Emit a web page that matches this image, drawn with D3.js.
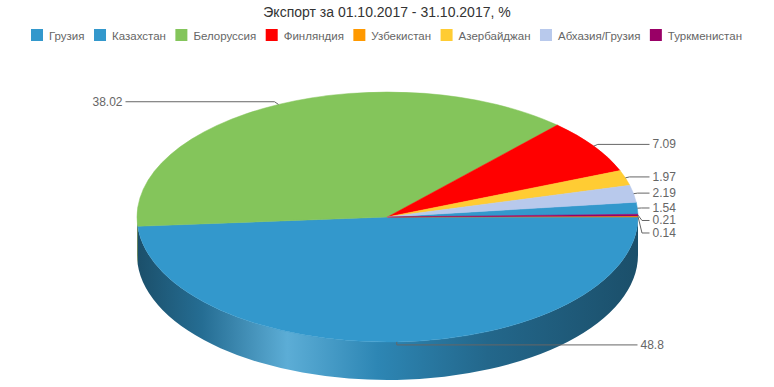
<!DOCTYPE html>
<html>
<head>
<meta charset="utf-8">
<script src="https://cdn.jsdelivr.net/npm/d3@7"></script>
<style>
  body { margin: 0; background: #fff; }
  text { font-family: "Liberation Sans", Arial, sans-serif; }
</style>
</head>
<body>
<script>
// chart data
var title = "Экспорт за 01.10.2017 - 31.10.2017, %";
var countries = ["Грузия", "Казахстан", "Белоруссия", "Финляндия", "Узбекистан", "Азербайджан", "Абхазия/Грузия", "Туркменистан"];
var shares = [48.8, 1.54, 38.02, 7.09, 0.14, 1.97, 2.19, 0.21];
var colors = ["#3398cc", "#3398cc", "#84c55b", "#ff0000", "#ff9900", "#ffcc33", "#b8c9ec", "#990066"];
// order of slices round the pie, clockwise from the right edge
var sliceOrder = ["Грузия", "Белоруссия", "Финляндия", "Азербайджан", "Абхазия/Грузия", "Казахстан", "Туркменистан", "Узбекистан"];

var width = 774,
    height = 387;

var cx = 387.5, cy = 217,
    rx = 250.5, ry = 125,
    depth = 38;

var data = countries.map(function(c, i) {
    return { name: c, value: shares[i], color: colors[i] };
});

var svg = d3.select("body")
    .append("svg")
    .attr("width", width)
    .attr("height", height);

svg.append("text")
    .attr("x", width / 2)
    .attr("y", 17)
    .attr("text-anchor", "middle")
    .style("font-size", "14px")
    .attr("fill", "#333")
    .text(title);

// legend: items spread between the left and right edges seen in the picture
var legLeft = 31, legRight = 742;
var legend = svg.append("g").attr("class", "legend");
var items = legend.selectAll("g")
    .data(data)
    .enter().append("g");
items.append("rect")
    .attr("y", 29)
    .attr("width", 12)
    .attr("height", 12)
    .attr("fill", function(d) { return d.color; });
items.append("text")
    .attr("x", 18)
    .attr("y", 39.5)
    .style("font-size", "11.5px")
    .attr("fill", "#666")
    .text(function(d) { return d.name; });

var widths = [];
items.each(function() {
    widths.push(18 + d3.select(this).select("text").node().getComputedTextLength());
});
var gap = (legRight - legLeft - d3.sum(widths)) / (widths.length - 1);
var xpos = legLeft, offs = [];
widths.forEach(function(w) { offs.push(xpos); xpos += w + gap; });
items.attr("transform", function(d, i) { return "translate(" + offs[i] + ",0)"; });

// pie angles: 0 = top, clockwise, starting at the right edge
var pie = d3.pie()
    .value(function(d) { return d.value; })
    .sort(function(a, b) { return sliceOrder.indexOf(a.name) - sliceOrder.indexOf(b.name); })
    .startAngle(Math.PI / 2)
    .endAngle(Math.PI / 2 + 2 * Math.PI);

var arcs = pie(data);

function pt(a, dy, ex) {
    ex = ex || 0;
    return [cx + (rx + ex) * Math.sin(a), cy - (ry + ex) * Math.cos(a) + (dy || 0)];
}

var defs = svg.append("defs");
// side gradient, light falling from the front-left
var stops = [[0, -0.48], [0.13, -0.28], [0.3, 0.2], [0.48, -0.12], [0.7, -0.32], [1, -0.48]];
arcs.forEach(function(d, i) {
    var g = defs.append("linearGradient")
        .attr("id", "side" + i)
        .attr("gradientUnits", "userSpaceOnUse")
        .attr("x1", cx - rx).attr("x2", cx + rx)
        .attr("y1", 0).attr("y2", 0);
    stops.forEach(function(s) {
        var c = s[1] < 0 ? d3.interpolateRgb(d.data.color, "#000")(-s[1])
                         : d3.interpolateRgb(d.data.color, "#fff")(s[1]);
        g.append("stop").attr("offset", s[0]).attr("stop-color", c);
    });
});

// side walls, front half only
var sides = svg.append("g").attr("class", "sides");
arcs.forEach(function(d, i) {
    var a0 = Math.max(d.startAngle, Math.PI / 2),
        a1 = Math.min(d.endAngle, 3 * Math.PI / 2);
    if (a1 <= a0) return;
    var p0 = pt(a0), p1 = pt(a1), q0 = pt(a0, depth), q1 = pt(a1, depth);
    var large = (a1 - a0) > Math.PI ? 1 : 0;
    var path = "M" + p0 + "A" + rx + "," + ry + " 0 " + large + " 1 " + p1 +
        "L" + q1 + "A" + rx + "," + ry + " 0 " + large + " 0 " + q0 + "Z";
    sides.append("path")
        .attr("d", path)
        .attr("fill", "url(#side" + i + ")");
});

// top faces
svg.append("g").attr("class", "tops")
    .selectAll("path")
    .data(arcs)
    .enter().append("path")
    .attr("d", function(d) {
        var p0 = pt(d.startAngle), p1 = pt(d.endAngle);
        var large = (d.endAngle - d.startAngle) > Math.PI ? 1 : 0;
        return "M" + cx + "," + cy + "L" + p0 + "A" + rx + "," + ry + " 0 " + large + " 1 " + p1 + "Z";
    })
    .attr("fill", function(d) { return d.data.color; })
    .attr("stroke", function(d) { return d.data.color; })
    .attr("stroke-width", 0.5);

// labels
var labels = arcs.map(function(d) {
    var m = (d.startAngle + d.endAngle) / 2;
    var dir = Math.sin(m) >= 0 ? 1 : -1;
    return { d: d, m: m, dir: dir, edge: pt(m), y: pt(m, 0, 3)[1] };
});
[1, -1].forEach(function(dir) {
    var side = labels.filter(function(l) { return l.dir === dir; })
        .sort(function(a, b) { return a.y - b.y; });
    for (var k = 1; k < side.length; k++) {
        if (side[k].y - side[k - 1].y < 12.5) side[k].y = side[k - 1].y + 12.5;
    }
});
labels.forEach(function(l) {
    var bottom = Math.abs(Math.cos(l.m)) > 0.9 && Math.cos(l.m) < 0;
    l.x = cx + l.dir * (rx + (bottom ? 2.5 : 14.5));
});

var lab = svg.append("g").attr("class", "labels");
lab.selectAll("polyline")
    .data(labels)
    .enter().append("polyline")
    .attr("points", function(l) {
        var bend = Math.abs(Math.cos(l.m)) > 0.9 && Math.cos(l.m) < 0 ? 0 : 4;
        return [l.edge, [l.edge[0] + l.dir * bend, l.y], [l.x - l.dir * 3, l.y]].join(" ");
    })
    .attr("fill", "none")
    .attr("stroke", "#666")
    .attr("stroke-width", 1);
lab.selectAll("text")
    .data(labels)
    .enter().append("text")
    .attr("x", function(l) { return l.x; })
    .attr("y", function(l) { return l.y + 4; })
    .attr("text-anchor", function(l) { return l.dir > 0 ? "start" : "end"; })
    .style("font-size", "12px")
    .attr("fill", "#666")
    .text(function(l) { return l.d.data.value; });
</script>
</body>
</html>
